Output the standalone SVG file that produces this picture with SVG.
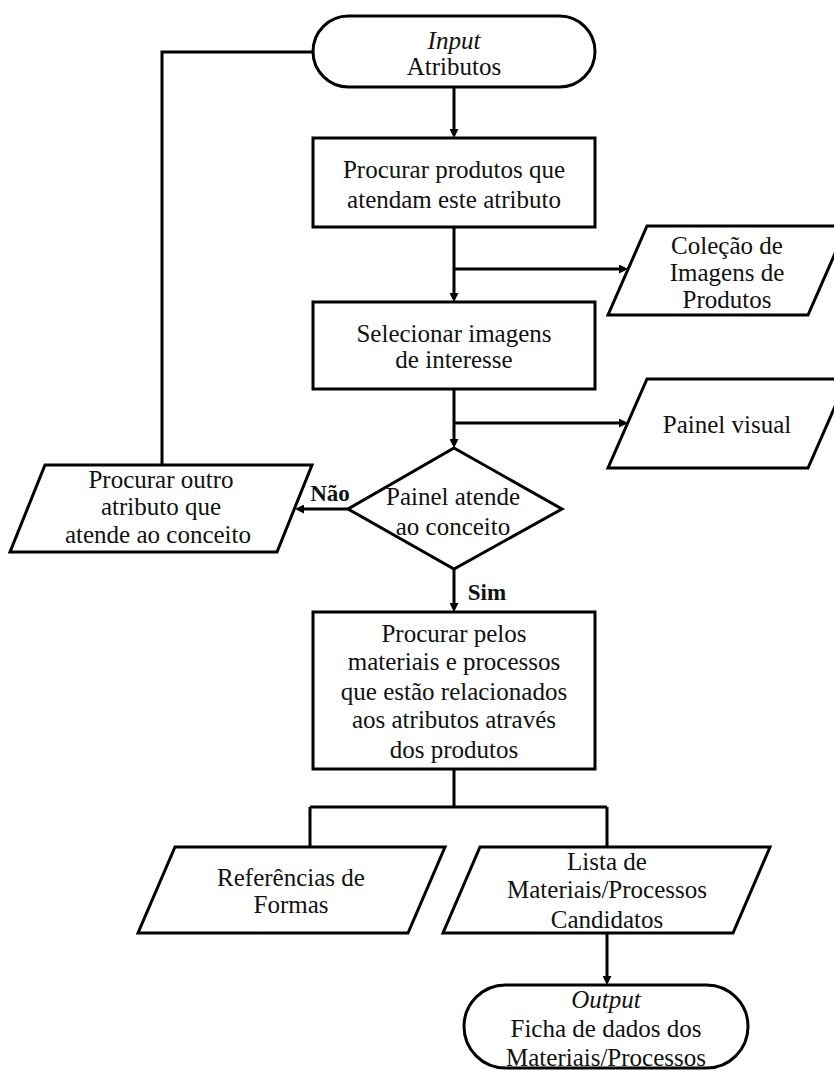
<svg xmlns="http://www.w3.org/2000/svg" width="834" height="1070" viewBox="0 0 834 1070">
  <style>
    .shape { fill: #ffffff; stroke: #000000; stroke-width: 3; stroke-linejoin: miter; }
    .wire { fill: none; stroke: #000000; stroke-width: 3; }
    .arrow { fill: none; stroke: #000000; stroke-width: 3; marker-end: url(#head); }
    text { font-family: "Liberation Serif", "Times New Roman", serif; font-size: 25px; fill: #111111; text-anchor: middle; }
    .it { font-style: italic; }
    .lbl { font-weight: bold; font-size: 23px; }
  </style>
  <defs>
    <marker id="head" viewBox="0 0 10 10" refX="6.7" refY="5" markerWidth="9" markerHeight="9" markerUnits="userSpaceOnUse" orient="auto">
      <path d="M0,0 L10,5 L0,10 z" fill="#000000"/>
    </marker>
  </defs>
  <rect width="834" height="1070" fill="#ffffff"/>

  <!-- connectors -->
  <g id="connectors">
    <path class="wire" d="M313,52 H162 V465"/>
    <path class="arrow" d="M454,87 V135"/>
    <path class="arrow" d="M454,227 V299"/>
    <path class="arrow" d="M454,269 H625"/>
    <path class="arrow" d="M454,389 V445"/>
    <path class="arrow" d="M454,423 H625"/>
    <path class="arrow" d="M348,509 H298"/>
    <path class="arrow" d="M454,569 V609"/>
    <path class="wire" d="M454,769 V807 M310,807 H607 M310,807 V847 M607,807 V847"/>
    <path class="arrow" d="M607,933 V982"/>
  </g>

  <g id="input">
    <rect class="shape" x="313" y="16" width="282" height="71" rx="35.5" ry="35.5"/>
    <text class="it" x="454" y="49">Input</text>
    <text x="454" y="75">Atributos</text>
  </g>

  <g id="procurar-produtos">
    <rect class="shape" x="313" y="138" width="282" height="89"/>
    <text x="454" y="178">Procurar produtos que</text>
    <text x="454" y="208">atendam este atributo</text>
  </g>

  <g id="colecao-imagens">
    <polygon class="shape" points="647,226 847,226 808,315 608,315"/>
    <text x="727" y="254">Coleção de</text>
    <text x="727" y="281">Imagens de</text>
    <text x="727" y="308">Produtos</text>
  </g>

  <g id="selecionar-imagens">
    <rect class="shape" x="313" y="302" width="282" height="87"/>
    <text x="454" y="342">Selecionar imagens</text>
    <text x="454" y="368">de interesse</text>
  </g>

  <g id="painel-visual">
    <polygon class="shape" points="647,379 847,379 808,468 608,468"/>
    <text x="727" y="433">Painel visual</text>
  </g>

  <g id="painel-atende">
    <polygon class="shape" points="454,448 562,509 454,569 348,509"/>
    <text x="453" y="505">Painel atende</text>
    <text x="453" y="535">ao conceito</text>
  </g>

  <g id="procurar-outro">
    <polygon class="shape" points="45,465 312,465 277,552 10,552"/>
    <text x="161" y="488">Procurar outro</text>
    <text x="161" y="515">atributo que</text>
    <text x="158" y="543">atende ao conceito</text>
  </g>

  <g id="labels">
    <text class="lbl" x="330" y="501">Não</text>
    <text class="lbl" x="487" y="600">Sim</text>
  </g>

  <g id="procurar-materiais">
    <rect class="shape" x="313" y="612" width="282" height="157"/>
    <text x="454" y="642">Procurar pelos</text>
    <text x="454" y="670">materiais e processos</text>
    <text x="454" y="700">que estão relacionados</text>
    <text x="454" y="728">aos atributos através</text>
    <text x="454" y="758">dos produtos</text>
  </g>

  <g id="referencias-formas">
    <polygon class="shape" points="175,847 445,847 408,933 138,933"/>
    <text x="291" y="886">Referências de</text>
    <text x="291" y="913">Formas</text>
  </g>

  <g id="lista-candidatos">
    <polygon class="shape" points="480,847 770,847 733,933 443,933"/>
    <text x="607" y="870">Lista de</text>
    <text x="607" y="898">Materiais/Processos</text>
    <text x="607" y="928">Candidatos</text>
  </g>

  <g id="output">
    <rect class="shape" x="464" y="985" width="284" height="83" rx="41.5" ry="41.5"/>
    <text class="it" x="606" y="1008">Output</text>
    <text x="606" y="1037">Ficha de dados dos</text>
    <text x="606" y="1066">Materiais/Processos</text>
  </g>
</svg>
